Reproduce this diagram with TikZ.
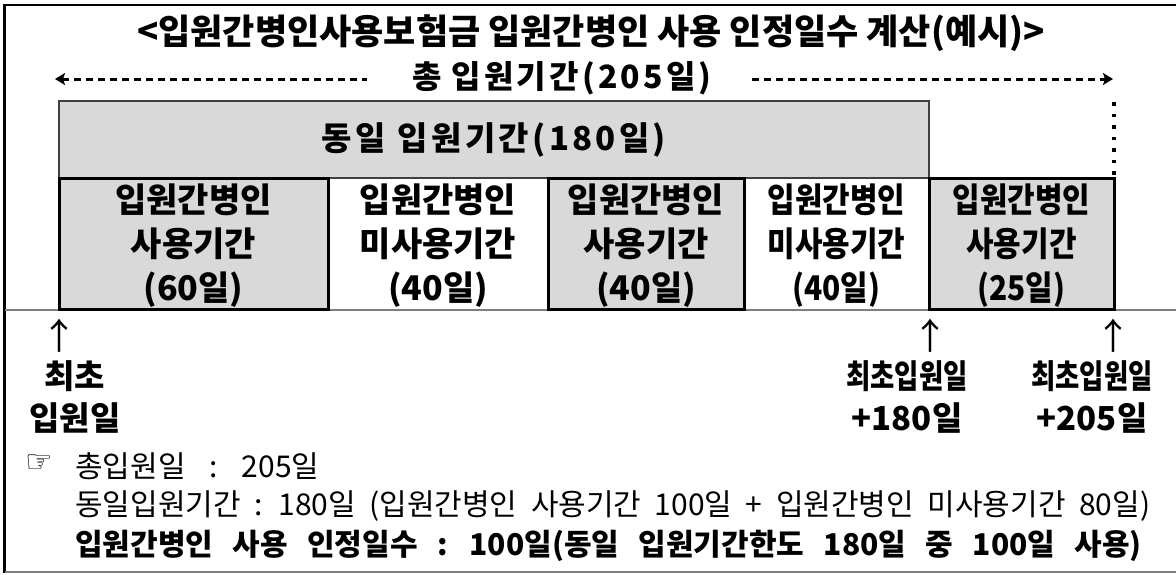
\documentclass[tikz,border=0pt]{standalone}
\usepackage{fontspec}
\setmainfont{Noto Sans CJK KR}
\newfontfamily\krsp[LetterSpace=10]{Noto Sans CJK KR}
\newfontfamily\symf{DejaVu Sans}
\usetikzlibrary{arrows.meta}
\definecolor{boxgray}{HTML}{D9D9D9}
\definecolor{linegray}{HTML}{7F7F7F}
\definecolor{edgegray}{HTML}{404040}
\newcommand\nrw[1]{\scalebox{0.88}[1]{#1}}
\newcommand\nrwl[1]{\scalebox{0.8}[1]{#1}}
\newcommand\widesp{\spaceskip=0.65em\relax}
\newcommand\midsp{\spaceskip=0.45em\relax}
\begin{document}
\begin{tikzpicture}[x=1pt,y=-1pt,
  usebox/.style={fill=boxgray,draw=black,line width=3pt,minimum height=131pt,anchor=north west,inner sep=0pt,outer sep=0pt},
  freebox/.style={minimum height=131pt,anchor=north west,inner sep=0pt,outer sep=0pt},
  boxtxt/.style={font=\fontsize{34}{44}\selectfont\bfseries,align=center,inner sep=0pt,yshift=-2pt},
  upbox/.style={fill=boxgray,draw=edgegray,line width=1.5pt,anchor=north west,inner sep=0pt,outer sep=0pt,font=\fontsize{33}{36}\selectfont\bfseries\krsp},
  titletxt/.style={font=\fontsize{35}{38}\selectfont\bfseries,inner sep=0pt},
  rowtxt/.style={font=\fontsize{32}{36}\selectfont\bfseries\krsp,inner sep=0pt},
  lbl/.style={font=\fontsize{33}{42}\selectfont\bfseries,align=center,inner sep=0pt},
  uparr/.style={font=\fontsize{36}{36}\selectfont,inner sep=0pt},
  normtxt/.style={font=\fontsize{30}{32}\selectfont,inner sep=0pt,anchor=west},
  boldtxt/.style={font=\fontsize{30}{32}\selectfont\bfseries,inner sep=0pt,anchor=west},
  dashline/.style={line width=3pt,dash pattern=on 7pt off 5pt},
  dotline/.style={line width=3.3pt,dash pattern=on 3.5pt off 8pt},
  frameline/.style={line width=2.5pt,black},
  sepline/.style={line width=1.2pt,linegray}
]
\useasboundingbox (0,0) rectangle (1176,574);
% frame
\draw[frameline] (1176,5) -- (4.5,5) -- (4.5,573);
\draw[line width=2pt,linegray] (4.5,572) -- (1176,572);
\draw[sepline] (4.5,310) -- (1176,310);
% title
\node[titletxt] (title) at (591,33) {<입원간병인사용보험금 입원간병인 사용 인정일수 계산(예시)>};
% total period row
\node[rowtxt] (tot) at (562,78) {총\hspace{10pt}입원기간(205일)};
\coordinate (la) at (55,79);
\coordinate (l1) at (367,79);
\coordinate (r1) at (752,79);
\coordinate (ra) at (1113,79);
\draw[dashline,{Stealth[length=10pt,width=12pt,inset=2pt]}-] (la) -- (l1);
\draw[dashline,-{Stealth[length=10pt,width=12pt,inset=2pt]}] (r1) -- (ra);
% same-period box
\node[upbox,minimum width=870pt,minimum height=77pt] (same) at (59,101) {동일\hspace{12pt}입원기간(180일)};
% lower boxes
\node[freebox,minimum width=220pt] (b2) at (328,178) {};
\node[freebox,minimum width=185pt] (b4) at (744,178) {};
\node[usebox,minimum width=269pt] (b1) at (59,178) {};
\node[usebox,minimum width=196pt] (b3) at (548,178) {};
\node[usebox,minimum width=185pt] (b5) at (929,178) {};
\node[boxtxt] (t1) at (b1.center) {입원간병인\\사용기간\\(60일)};
\node[boxtxt] (t2) at (b2.center) {입원간병인\\미사용기간\\(40일)};
\node[boxtxt] (t3) at (b3.center) {입원간병인\\사용기간\\(40일)};
\node[boxtxt] (t4) at (b4.center) {\nrw{입원간병인}\\\nrw{미사용기간}\\\nrw{(40일)}};
\node[boxtxt] (t5) at (b5.center) {\nrw{입원간병인}\\\nrw{사용기간}\\\nrw{(25일)}};
% dotted continuation
\coordinate (dtop) at (1114,102);
\draw[dotline] (dtop) -- (b5.north east);
% markers
\node[uparr] (a1) at (59,336) {↑};
\node[uparr] (a2) at (930,336) {↑};
\node[uparr] (a3) at (1113,336) {↑};
\node[lbl] (m1) at (75,397) {최초\\입원일};
\node[lbl] (m2) at (907,397) {\nrwl{최초입원일}\\+180일};
\node[lbl] (m3) at (1092,397) {\nrwl{최초입원일}\\+205일};
% notes
\node[inner sep=0pt,font=\fontsize{31}{32}\selectfont\symf] (hand) at (39,464) {☞};
\node[normtxt] (n1) at (75,466) {총입원일\hspace{24pt}:\hspace{24pt}205일};
\node[normtxt] (n2) at (75,506) {\midsp 동일입원기간 : 180일 (입원간병인 사용기간 100일 + 입원간병인 미사용기간 80일)};
\node[boldtxt] (n3) at (75,546) {\widesp 입원간병인 사용 인정일수 : 100일(동일 입원기간한도 180일 중 100일 사용)};
\end{tikzpicture}
\end{document}
